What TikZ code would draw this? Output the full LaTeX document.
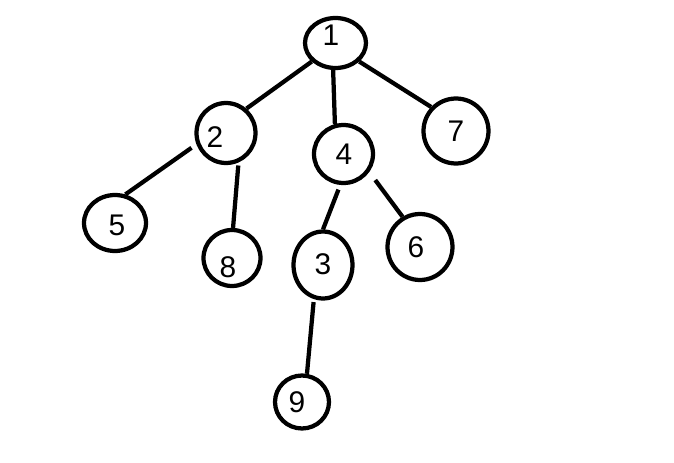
\documentclass[tikz,border=0pt]{standalone}
\usepackage{fontspec}
\setmainfont{Liberation Sans}
\usetikzlibrary{shapes.geometric}

\begin{document}
\begin{tikzpicture}[
			x=0.02cm, y=-0.02cm,
			ring/.style={ellipse, draw, line width=0.085cm, inner sep=0pt},
			num/.style={font=\fontsize{17}{20}\selectfont, inner sep=0pt},
			branch/.style={line width=0.085cm}
			]
			\useasboundingbox (0,0) rectangle (674,463);
			
			% Circles
			\node[ring, minimum width=1.22cm, minimum height=1.00cm] (n1) at (335.5,43) {};
			\node[ring, minimum width=1.18cm, minimum height=1.20cm] (n2) at (226,133) {};
			\node[ring, minimum width=1.18cm, minimum height=1.16cm] (n4) at (343.5,154) {};
			\node[ring, minimum width=1.30cm, minimum height=1.30cm] (n7) at (456,131) {};
			\node[ring, minimum width=1.24cm, minimum height=1.12cm] (n5) at (115,223) {};
			\node[ring, minimum width=1.14cm, minimum height=1.12cm] (n8) at (232,258) {};
			\node[ring, minimum width=1.18cm, minimum height=1.34cm] (n3) at (323,265) {};
			\node[ring, minimum width=1.30cm, minimum height=1.32cm] (n6) at (420,247) {};
			\node[ring, minimum width=1.08cm, minimum height=1.06cm] (n9) at (302,402) {};
			
			% Numbers
			\node[num] (t1) at (331,35) {1};
			\node[num] (t2) at (215,137) {2};
			\node[num] (t4) at (344,154) {4};
			\node[num] (t7) at (456,131) {7};
			\node[num] (t5) at (117,225) {5};
			\node[num] (t8) at (228,267) {8};
			\node[num] (t3) at (323,264) {3};
			\node[num] (t6) at (416,247) {6};
			\node[num] (t9) at (297,402) {9};
			
			% Branches
			\draw[branch] (n1.218) -- (n2.50);
			\draw[branch] (n1.265) -- (n4.106);
			\draw[branch] (n1.322) -- (n7.136);
			\draw[branch, shorten <=0.12cm] (n2.201) -- (n5.70);
			\draw[branch, shorten <=0.06cm] (n2.293) -- (n8.88);
			\draw[branch, shorten <=0.10cm] (n4.264) -- (n3.90);
			\draw[branch, shorten <=0.20cm] (n4.325) -- (n6.120);
			\draw[branch, shorten <=0.06cm] (n3.255) -- (n9.80);
		\end{tikzpicture}
\end{document}
